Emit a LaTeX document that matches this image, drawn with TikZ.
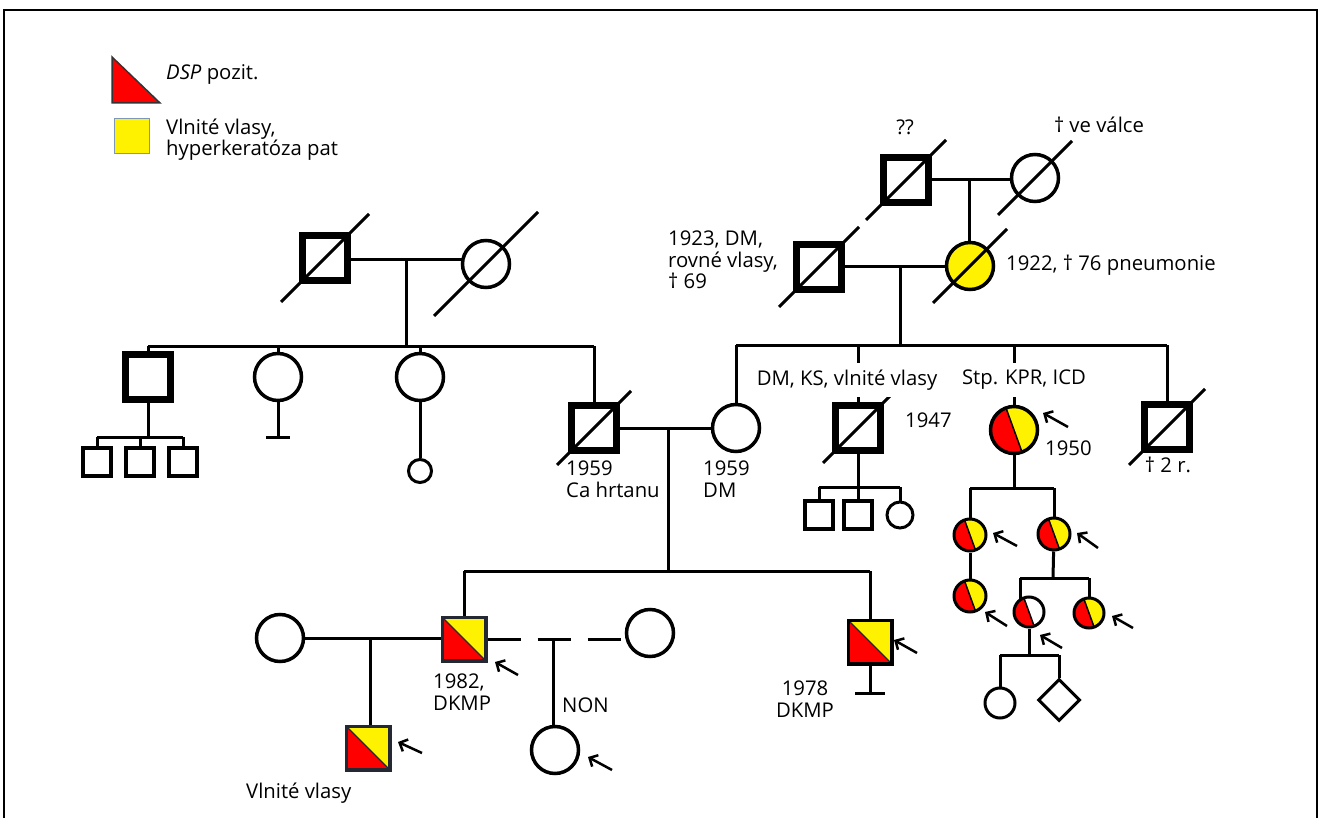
\documentclass[tikz,border=0pt]{standalone}
\usepackage{fontspec}
\setmainfont{Open Sans}
\usetikzlibrary{arrows.meta,calc,shapes.geometric,backgrounds}
\definecolor{legblue}{RGB}{125,150,185}
\definecolor{sqborder}{RGB}{35,40,50}
\newcommand\deceased[2]{\draw[conn] ($(#1)+(-#2,#2)$) -- ($(#1)+(#2,-#2)$);}
\begin{document}
\begin{tikzpicture}[x=1pt,y=-1pt,
  every node/.style={font=\fontsize{20.3}{21.5}\selectfont},
  conn/.style={line width=3pt},
  thicksq/.style={draw, rectangle, line width=7.5pt, minimum size=45pt, inner sep=0pt, fill=white},
  sq/.style={draw=sqborder, rectangle, line width=3.5pt, minimum size=43.5pt, inner sep=0pt, fill=white},
  smallsq/.style={draw, rectangle, line width=3.5pt, minimum size=28pt, inner sep=0pt, fill=white},
  circ/.style={draw, circle, line width=3.5pt, minimum size=47pt, inner sep=0pt, fill=white},
  scirc/.style={draw, circle, line width=3pt, minimum size=32pt, inner sep=0pt, fill=white},
  lbl/.style={inner sep=0pt, align=left},
  splitsq/.style={path picture={
     \fill[yellow] (path picture bounding box.south west) rectangle (path picture bounding box.north east);
     \fill[red] (path picture bounding box.north west) -- (path picture bounding box.south west) -- (path picture bounding box.south east) -- cycle;
     \draw[line width=1.2pt, sqborder] (path picture bounding box.north west) -- (path picture bounding box.south east);}},
  splitc/.style={path picture={
     \fill[yellow] (path picture bounding box.south west) rectangle (path picture bounding box.north east);
     \fill[red] (path picture bounding box.center) -- ++(250:60) arc[start angle=250,end angle=70,radius=60] -- cycle;
     \draw[line width=1.5pt] ($(path picture bounding box.center)+(250:60)$) -- ($(path picture bounding box.center)+(70:60)$);}},
  halfc/.style={path picture={
     \fill[red] (path picture bounding box.center) -- ++(250:60) arc[start angle=250,end angle=70,radius=60] -- cycle;
     \draw[line width=1.5pt] ($(path picture bounding box.center)+(250:60)$) -- ($(path picture bounding box.center)+(70:60)$);}},
  prob/.style={line width=2.5pt, -{Straight Barb[length=6.5pt,width=13pt]}}
]
\useasboundingbox (0,0) rectangle (1320,818);
\draw[line width=1.2pt] (4,818) -- (4,10) -- (1317,10) -- (1317,818);

% legend
\draw[fill=red, draw=black!80, line width=1.5pt] (112,57) -- (112,103) -- (160,103) -- cycle;
\node[draw=legblue, fill=yellow, line width=1.5pt, minimum size=35pt, inner sep=0pt] (legY) at (132,136) {};
\node[lbl, anchor=west] (legT1) at (166,74) {\textit{DSP} pozit.};
\node[lbl, anchor=north west, font=\fontsize{20.3}{21}\selectfont] (legT2) at (166,119) {Vlnité vlasy,\\hyperkeratóza pat};

% generation I/II top right
\node[thicksq] (Q) at (906,180) {};
\node[circ] (V) at (1035,178) {};
\node[circ, fill=yellow] (Y) at (970,266) {};
\node[thicksq] (G) at (819,267) {};
% top left
\node[thicksq] (P1) at (325,258) {};
\node[circ] (P2) at (486,264) {};
\node[thicksq] (C1) at (148,377) {};
\node[circ] (C2) at (278,377) {};
\node[circ] (C3) at (420,377) {};
\node[thicksq] (C4) at (594,428) {};
\node[smallsq] (k1) at (97,462) {};
\node[smallsq] (k2) at (140,462) {};
\node[smallsq] (k3) at (183,462) {};
\node[draw, circle, line width=3pt, minimum size=23pt, inner sep=0pt, fill=white] (sc3) at (420,471) {};
% right sibship
\node[circ] (W) at (736,428) {};
\node[thicksq] (X) at (858,428) {};
\node[circ, splitc] (Z) at (1014,430) {};
\node[thicksq] (T) at (1167,427) {};
\node[smallsq] (x1) at (819,515) {};
\node[smallsq] (x2) at (858,515) {};
\node[draw, circle, line width=3pt, minimum size=26pt, inner sep=0pt, fill=white] (x3) at (900,515) {};
\node[scirc, splitc] (A) at (970,535) {};
\node[scirc, splitc] (B) at (1054,534) {};
\node[scirc, splitc] (Cc) at (970,596) {};
\node[scirc, halfc, minimum size=30pt] (D) at (1029,612) {};
\node[scirc, splitc, minimum size=30pt] (E) at (1089,613) {};
\node[scirc, minimum size=30pt] (F) at (1000,703) {};
\node[draw, diamond, aspect=1, line width=3pt, minimum size=42pt, inner sep=0pt, fill=white] (Dm) at (1059,700) {};
% generation III/IV
\node[circ] (L) at (280,638) {};
\node[sq, splitsq] (S82) at (464,639) {};
\node[sq, splitsq] (K) at (368,748) {};
\node[circ] (R) at (650,633) {};
\node[circ] (N) at (555,750) {};
\node[sq, draw=black, splitsq] (S78) at (870,642) {};

% junction coordinates
\coordinate (qv) at (969,180);
\coordinate (gy) at (900,267);
\coordinate (sib2) at (900,345);
\coordinate (pj) at (406,260);
\coordinate (s1) at (406,346);
\coordinate (c1j) at (148,437);
\coordinate (c2j) at (278,437);
\coordinate (mj) at (668,428);
\coordinate (g3) at (668,571);
\coordinate (xj) at (858,487);
\coordinate (zj) at (1014,488);
\coordinate (bj) at (1053,578);
\coordinate (dj) at (1020,578);
\coordinate (fj) at (1029,655);
\coordinate (lk) at (370,639);
\coordinate (nj) at (553,639);
\coordinate (s78b) at (870,693);

\begin{scope}[on background layer]
  \draw[conn] (Q) -- (Q -| V);
  \draw[conn] (qv) -- (qv |- Y);
  \draw[conn] (G) -- (G -| Y);
  \draw[conn] (gy) -- (sib2);
  \draw[conn] (W |- sib2) -- (T |- sib2);
  \draw[conn] (W |- sib2) -- (W);
  \draw[conn] (X |- sib2) -- (X);
  \draw[conn] (Z |- sib2) -- (Z);
  \draw[conn] (T |- sib2) -- (T);
  \draw[conn] (X) -- (xj);
  \draw[conn] (x1 |- xj) -- (x3 |- xj);
  \draw[conn] (x1 |- xj) -- (x1);
  \draw[conn] (x2 |- xj) -- (x2);
  \draw[conn] (x3 |- xj) -- (x3);
  \draw[conn] (Z) -- (zj);
  \draw[conn] (A |- zj) -- (B |- zj);
  \draw[conn] (A |- zj) -- (A);
  \draw[conn] (B |- zj) -- (B);
  \draw[conn] (A) -- (Cc);
  \draw[conn] (B) -- (bj);
  \draw[conn] (dj) -- (E |- bj);
  \draw[conn] (dj) -- (dj |- D);
  \draw[conn] (E |- bj) -- (E);
  \draw[conn] (D) -- (fj);
  \draw[conn] (F |- fj) -- (Dm |- fj);
  \draw[conn] (F |- fj) -- (F);
  \draw[conn] (Dm |- fj) -- (Dm);
  % top left
  \draw[conn] (P1 |- pj) -- (P2 |- pj);
  \draw[conn] (pj) -- (s1);
  \draw[conn] (C1 |- s1) -- (C4 |- s1);
  \draw[conn] (C1 |- s1) -- (C1);
  \draw[conn] (C2 |- s1) -- (C2);
  \draw[conn] (C3 |- s1) -- (C3);
  \draw[conn] (C4 |- s1) -- (C4);
  \draw[conn] (C1) -- (c1j);
  \draw[conn] (k1 |- c1j) -- (k3 |- c1j);
  \draw[conn] (k1 |- c1j) -- (k1);
  \draw[conn] (k2 |- c1j) -- (k2);
  \draw[conn] (k3 |- c1j) -- (k3);
  \draw[conn] (C2) -- (c2j);
  \draw[conn] ($(c2j)+(-12,0)$) -- ($(c2j)+(12,0)$);
  \draw[conn] (C3) -- (sc3);
  \draw[conn] (C4) -- (W);
  \draw[conn] (mj) -- (g3);
  \draw[conn] (S82 |- g3) -- (S78 |- g3);
  \draw[conn] (S82 |- g3) -- (S82);
  \draw[conn] (S78 |- g3) -- (S78);
  \draw[conn] (L) -- (L -| S82);
  \draw[conn] (lk) -- (lk |- K);
  \draw[conn, dash pattern=on 33pt off 17pt] (S82.east) -- (S82.east -| R.west);
  \draw[conn] (nj) -- (nj |- N);
  \draw[conn] (S78) -- (s78b);
  \draw[conn] ($(s78b)+(-15,0)$) -- ($(s78b)+(15,0)$);
\end{scope}

% deceased slashes
\deceased{Q}{40}
\deceased{V}{37}
\deceased{Y}{37}
\deceased{G}{40}
\deceased{P1}{44}
\deceased{P2}{52}
\deceased{C4}{37}
\deceased{X}{35}
\deceased{T}{38}

% proband arrows
\coordinate (aZt) at (1068,427); \coordinate (aZh) at (1043,413);
\coordinate (aAt) at (1017,546); \coordinate (aAh) at (993,533);
\coordinate (aBt) at (1098,548); \coordinate (aBh) at (1077,533);
\coordinate (aCt) at (1007,626); \coordinate (aCh) at (985,612);
\coordinate (aDt) at (1062,648); \coordinate (aDh) at (1040,635);
\coordinate (aEt) at (1133,628); \coordinate (aEh) at (1112,616);
\coordinate (a82t) at (518,675); \coordinate (a82h) at (495,662);
\coordinate (aKt) at (422,753); \coordinate (aKh) at (398,742);
\coordinate (aNt) at (612,770); \coordinate (aNh) at (588,757);
\coordinate (a78t) at (917,653); \coordinate (a78h) at (894,640);
\foreach \n in {Z,A,B,C,D,E,82,K,N,78} \draw[prob] (a\n t) -- (a\n h);

% labels
\node[lbl] (tQ) at (905,127) {??};
\node[lbl] (tV) at (1099,125) {† ve válce};
\node[lbl, anchor=west] (tY) at (1006,265) {1922, † 76 pneumonie};
\node[lbl, anchor=north west] (tG) at (668,231) {1923, DM,\\rovné vlasy,\\† 69};
\node[fill=white, inner xsep=2pt, inner ysep=7pt] (tX) at (847,380) {DM, KS, vlnité vlasy};
\node[fill=white, inner xsep=2pt, inner ysep=7pt] (tZ) at (1024,380) {Stp. KPR, ICD};
\node[lbl, anchor=west] (tX2) at (905,420) {1947};
\node[lbl, anchor=west] (tZ2) at (1045,448) {1950};
\node[lbl] (tT) at (1168,465) {† 2 r.};
\node[lbl, anchor=north west] (tC4) at (566,461) {1959\\Ca hrtanu};
\node[lbl, anchor=north west] (tW) at (703,461) {1959\\DM};
\node[lbl, anchor=north west] (tS82) at (433,674) {1982,\\DKMP};
\node[lbl, align=center] (tS78) at (805,699) {1978\\DKMP};
\node[lbl, anchor=west] (tN) at (562,705) {NON};
\node[lbl, anchor=west] (tK) at (246,793) {Vlnité vlasy};
\end{tikzpicture}
\end{document}
